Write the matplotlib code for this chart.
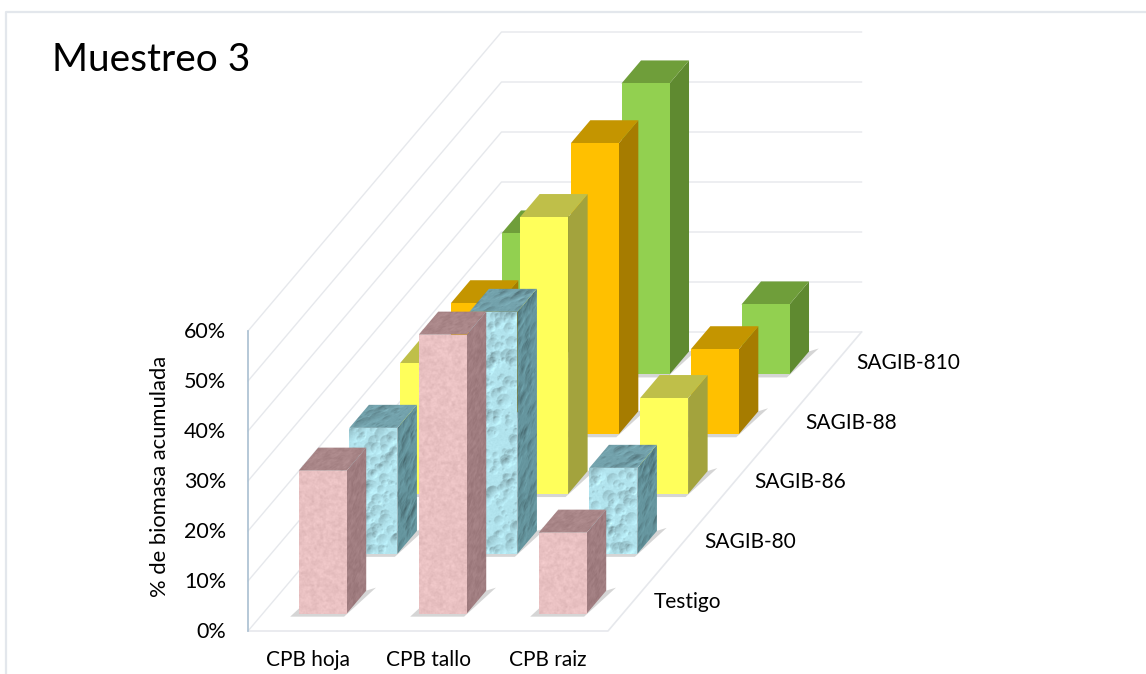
import numpy as np
import matplotlib
matplotlib.use('Agg')
import matplotlib.pyplot as plt
from matplotlib.colors import to_rgb
from matplotlib.patches import Polygon
from matplotlib.transforms import Affine2D

plt.rcParams['font.family'] = ['Lato', 'DejaVu Sans']

categorias = ['CPB hoja', 'CPB tallo', 'CPB raiz']
series = ['Testigo', 'SAGIB-80', 'SAGIB-86', 'SAGIB-88', 'SAGIB-810']
testigo = [28.6, 55.8, 16.2]
sagib_80 = [25.2, 48.4, 17.2]
sagib_86 = [26.2, 55.4, 19.2]
sagib_88 = [26.2, 58.2, 17.0]
sagib_810 = [28.2, 58.2, 14.0]
valores = [testigo, sagib_80, sagib_86, sagib_88, sagib_810]
ticks_y = [0, 10, 20, 30, 40, 50, 60]

# (frente, arriba, lado)
colores = {
    'Testigo': ('#E9C1C2', '#A98688', '#A07D80'),
    'SAGIB-80': ('#B2E4EE', '#74A3AD', '#66969F'),
    'SAGIB-86': ('#FFFF5B', '#BFBF49', '#A3A33D'),
    'SAGIB-88': ('#FFC000', '#C49500', '#A67C00'),
    'SAGIB-810': ('#92D050', '#6F9E3A', '#5F8A30'),
}

# proyeccion oblicua del grafico 3D a pixeles de la figura
ORIGEN = np.array([248.0, 631.0])
ANCHO_CAT = 120.0
FONDO = np.array([50.7, -59.8])
PX_POR_UNIDAD = 5.0


def proy(c, s, v):
    # c = posicion en categorias, s = posicion en series, v = porcentaje
    return ORIGEN + np.array([c * ANCHO_CAT, -v * PX_POR_UNIDAD]) + s * FONDO


def hash2(x, y, s):
    r = np.sin(x * 127.1 + y * 311.7 + s * 74.7) * 43758.5453
    return r - np.floor(r)


def suave(a, k):
    out = a.copy()
    for _ in range(k):
        out = (out + np.roll(out, 1, 0) + np.roll(out, -1, 0) + np.roll(out, 1, 1) + np.roll(out, -1, 1)) / 5
    return out


def textura_moteada(base, w, h, s):
    yy, xx = np.mgrid[0:h, 0:w]
    fino = suave(hash2(xx, yy, s), 2)
    grueso = suave(hash2(xx // 6, yy // 6, s + 1), 6)
    n = (fino - fino.mean()) / fino.std() + (grueso - grueso.mean()) / grueso.std()
    img = np.ones((h, w, 3)) * np.array(to_rgb(base))
    return np.clip(img + n[..., None] * 0.012, 0, 1)


def textura_agua(base, w, h, s):
    yy, xx = np.mgrid[0:h, 0:w]
    img = np.ones((h, w, 3)) * np.array(to_rgb(base))
    # gotas en posiciones fijas sacadas del hash
    n = max(10, int(w * h / 170))
    for i in range(n):
        cx = hash2(i, 1.0, s) * w
        cy = hash2(i, 2.0, s) * h
        rad = 2.5 + hash2(i, 3.0, s) ** 2 * 13
        dx = xx - cx
        dy = yy - cy
        d = np.hypot(dx, dy) / rad
        m = d < 1
        t = (dx[m] - dy[m]) / (rad * 1.4)
        img[m] = img[m] * (1 + 0.12 * t - 0.04)[..., None]
    img = img + suave(hash2(xx, yy, s + 5) - 0.5, 1)[..., None] * 0.09
    return np.clip(img, 0, 1)


def cara_img(ax, img, p0, px, py, z):
    # p0 esquina inferior izquierda, px y py vectores de los lados
    m = np.array([[px[0], py[0], p0[0]], [px[1], py[1], p0[1]], [0, 0, 1]])
    tr = Affine2D(m) + ax.transData
    im = ax.imshow(img, extent=(0, 1, 0, 1), origin='lower', transform=tr, aspect='auto',
                   zorder=z, interpolation='bilinear')
    im.set_clip_path(Polygon([p0, p0 + px, p0 + px + py, p0 + py], closed=True, transform=ax.transData))


def cara(ax, p0, px, py, z, color, textura, semilla):
    if textura is None:
        ax.add_patch(Polygon([p0, p0 + px, p0 + px + py, p0 + py], closed=True, fc=color, ec='none', zorder=z))
        return
    # 2 texeles por pixel
    w = max(4, int(np.hypot(*px) * 2))
    h = max(4, int(np.hypot(*py) * 2))
    cara_img(ax, textura(color, w, h, semilla), p0, px, py, z)


fig = plt.figure(figsize=(11.46, 6.74), dpi=100)
ax = fig.add_axes([0, 0, 1, 1])

TEX = {'Testigo': textura_moteada, 'SAGIB-80': textura_agua}

# marco exterior
ax.plot([6, 6, 1146], [674, 12, 12], color='#E3E7EC', lw=1.6, zorder=1)

# rejilla de paredes y piso
gris = '#E6E8EC'
ns = len(series)
nc = len(categorias)
for v in ticks_y:
    a = proy(0, 0, v)
    b = proy(0, ns, v)
    c = proy(nc, ns, v)
    ax.plot([a[0], b[0], c[0]], [a[1], b[1], c[1]], color=gris, lw=1.0, zorder=2)
a = proy(0, 0, 0)
b = proy(nc, 0, 0)
c = proy(nc, ns, 0)
ax.plot([a[0], b[0], c[0]], [a[1], b[1], c[1]], color=gris, lw=1.2, zorder=2)
a = proy(0, 0, 0)
b = proy(0, 0, ticks_y[-1])
ax.plot([a[0], b[0]], [a[1], b[1]], color='#A9BFD1', lw=1.2, zorder=3)

# barras, de atras hacia adelante
ANCHO = 0.40
PROF = 0.385
MARGEN = 0.29
z = 10
for s in range(ns - 1, -1, -1):
    nombre = series[s]
    fr, ar, la = colores[nombre]
    tex = TEX.get(nombre)
    for c in range(nc):
        v = valores[s][c]
        x0 = c + (1 - ANCHO) / 2
        x1 = x0 + ANCHO
        s0 = s + MARGEN
        s1 = s0 + PROF
        # sombra sobre el piso
        sombra = [proy(x0 - 0.05, s0 - 0.05, 0), proy(x1, s0 - 0.05, 0),
                  proy(x1 + 0.06, s1 + 0.05, 0), proy(x1, s1, 0), proy(x0, s1, 0)]
        ax.add_patch(Polygon(sombra, closed=True, fc='#C4C4C4', ec='none', alpha=0.7, zorder=z))
        z += 1
        p = proy(x0, s0, 0)
        vx = proy(x1, s0, 0) - p
        vy = proy(x0, s0, v) - p
        vz = proy(x0, s1, 0) - p
        sem = s * 10 + c
        cara(ax, p + vx, vz, vy, z, la, tex, sem + 1)
        cara(ax, p + vy, vx, vz, z + 1, ar, tex, sem + 2)
        cara(ax, p, vx, vy, z + 2, fr, tex, sem + 3)
        z += 3

# textos
for v in ticks_y:
    q = proy(0, 0, v)
    ax.text(q[0] - 22, q[1] + 1, '%d%%' % v, ha='right', va='center', fontsize=15.5, color='black', zorder=900)
for i, nom in enumerate(categorias):
    q = proy(i + 0.5, 0, 0)
    ax.text(q[0], q[1] + 29, nom, ha='center', va='center', fontsize=15, color='black', zorder=900)
for s, nom in enumerate(series):
    q = proy(nc, s + 0.5, 0)
    ax.text(q[0] + 20, q[1] + 1, nom, ha='left', va='center', fontsize=15, color='black', zorder=900)
ax.text(160, 476, '% de biomasa acumulada', rotation=90, ha='center', va='center', fontsize=15.8, color='black', zorder=900)
ax.text(52, 60, 'Muestreo 3', ha='left', va='center', fontsize=28, color='black', zorder=900)

ax.set_xlim(0, 1146)
ax.set_ylim(674, 0)
ax.axis('off')
fig.savefig('out.png', dpi=100)
